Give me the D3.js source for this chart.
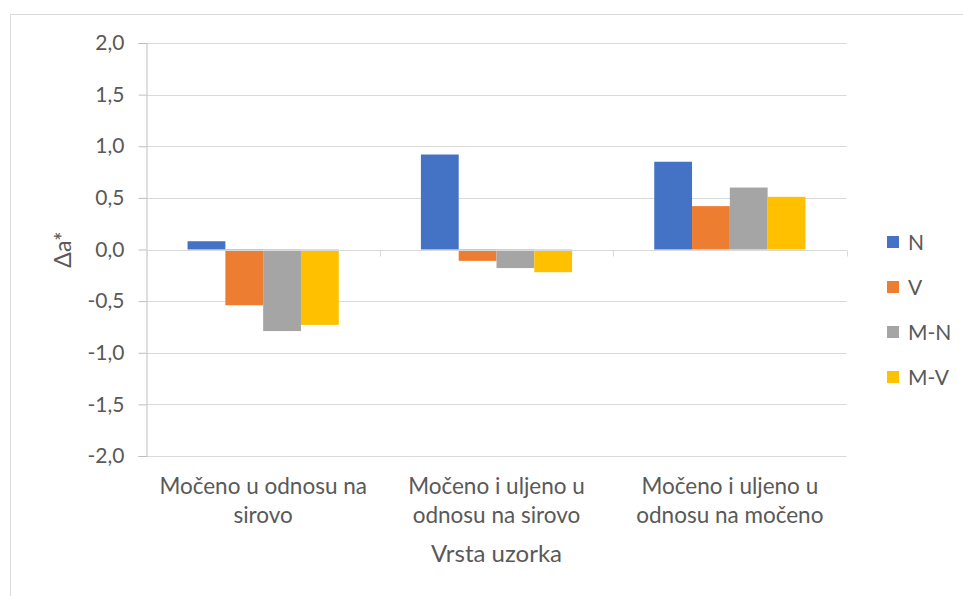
<!DOCTYPE html>
<html>
<head>
<meta charset="utf-8">
<script src="https://cdn.jsdelivr.net/npm/d3@7"></script>
<style>
	body { margin: 0; background: #fff; }
	text { font-family: Lato, "Liberation Sans", sans-serif; fill: #595959; }
</style>
</head>
<body>
<div id="chart"></div>
<script>
// data
var categories = [
	["Močeno u odnosu na", "sirovo"],
	["Močeno i uljeno u", "odnosu na sirovo"],
	["Močeno i uljeno u", "odnosu na močeno"]
];
var seriesNames = ["N", "V", "M-N", "M-V"];
var seriesColors = ["#4472c4", "#ed7d31", "#a5a5a5", "#ffc000"];
var valuesN = [0.08, 0.92, 0.85];
var valuesV = [-0.54, -0.11, 0.42];
var valuesMN = [-0.79, -0.18, 0.60];
var valuesMV = [-0.73, -0.22, 0.51];
var yTicks = [-2, -1.5, -1, -0.5, 0, 0.5, 1, 1.5, 2];

var allValues = [valuesN, valuesV, valuesMN, valuesMV];

var W = 963, H = 596;
var plot = { left: 146.5, right: 846.5, top: 43, bottom: 456 };

var svg = d3.select("#chart").append("svg")
	.attr("width", W)
	.attr("height", H);

// chart border
svg.append("rect")
	.attr("x", 10.5).attr("y", 14.5)
	.attr("width", W).attr("height", H)
	.attr("fill", "none")
	.attr("stroke", "#d9d9d9");

var y = d3.scaleLinear().domain([-2, 2]).range([plot.bottom, plot.top]);
var x0 = d3.scaleBand().domain(d3.range(categories.length)).range([plot.left, plot.right]);
var groupW = x0.bandwidth() * 0.648;
var x1 = d3.scaleBand().domain(d3.range(seriesNames.length)).range([0, groupW]);

// gridlines
svg.append("g")
	.selectAll("line")
	.data(yTicks)
	.join("line")
	.attr("x1", plot.left).attr("x2", plot.right)
	.attr("y1", function (d) { return Math.round(y(d)) + 0.5; })
	.attr("y2", function (d) { return Math.round(y(d)) + 0.5; })
	.attr("stroke", "#d9d9d9")
	.attr("stroke-width", 1);

// y axis
var yAxis = svg.append("g")
	.attr("transform", "translate(" + plot.left + ",0)")
	.call(d3.axisLeft(y).tickValues(yTicks).tickSize(8).tickPadding(14)
		.tickFormat(function (d) { return d3.format(".1f")(d).replace(".", ",").replace("−", "-"); }));
yAxis.select(".domain").attr("stroke", "#bfbfbf");
yAxis.selectAll(".tick line").attr("stroke", "#bfbfbf");
yAxis.selectAll(".tick text")
	.style("font-family", "Lato, sans-serif")
	.style("font-size", "21px")
	.attr("fill", "#595959");

// bars
var groups = svg.append("g")
	.selectAll("g")
	.data(allValues)
	.join("g")
	.attr("fill", function (d, i) { return seriesColors[i]; });

groups.each(function (vals, s) {
	d3.select(this).selectAll("rect")
		.data(vals)
		.join("rect")
		.attr("x", function (d, i) { return x0(i) + (x0.bandwidth() - groupW) / 2 + x1(s); })
		.attr("width", x1.bandwidth())
		.attr("y", function (d) { return y(Math.max(0, d)); })
		.attr("height", function (d) { return Math.abs(y(d) - y(0)); });
});

// category axis at zero
var zeroY = Math.round(y(0)) + 0.5;
svg.append("line")
	.attr("x1", plot.left).attr("x2", plot.right)
	.attr("y1", zeroY).attr("y2", zeroY)
	.attr("stroke", "#d9d9d9");
svg.append("g")
	.selectAll("line")
	.data(d3.range(categories.length + 1))
	.join("line")
	.attr("x1", function (i) { return Math.round(plot.left + i * x0.step()) + 0.5; })
	.attr("x2", function (i) { return Math.round(plot.left + i * x0.step()) + 0.5; })
	.attr("y1", zeroY).attr("y2", zeroY + 6)
	.attr("stroke", "#d9d9d9");

// category labels
var labels = svg.append("g")
	.selectAll("text")
	.data(categories)
	.join("text")
	.attr("text-anchor", "middle")
	.style("font-size", "22.5px")
	.attr("x", function (d, i) { return x0(i) + x0.bandwidth() / 2; })
	.attr("y", 494);
labels.selectAll("tspan")
	.data(function (d) { return d; })
	.join("tspan")
	.attr("x", function () { return d3.select(this.parentNode).attr("x"); })
	.attr("dy", function (d, i) { return i == 0 ? 0 : 29; })
	.text(function (d) { return d; });

// axis titles
svg.append("text")
	.attr("text-anchor", "middle")
	.style("font-size", "24px")
	.attr("x", (plot.left + plot.right) / 2)
	.attr("y", 562)
	.text("Vrsta uzorka");

svg.append("text")
	.attr("text-anchor", "middle")
	.style("font-size", "23px")
	.attr("transform", "translate(71," + ((plot.top + plot.bottom) / 2) + ") rotate(-90)")
	.text("Δa*");

// legend
var legend = svg.append("g")
	.selectAll("g")
	.data(seriesNames)
	.join("g")
	.attr("transform", function (d, i) { return "translate(887," + (242 + i * 45) + ")"; });
legend.append("rect")
	.attr("y", -6)
	.attr("width", 12).attr("height", 12)
	.attr("fill", function (d, i) { return seriesColors[i]; });
legend.append("text")
	.attr("x", 21).attr("y", 7.5)
	.style("font-size", "21px")
	.text(function (d) { return d; });
</script>
</body>
</html>
